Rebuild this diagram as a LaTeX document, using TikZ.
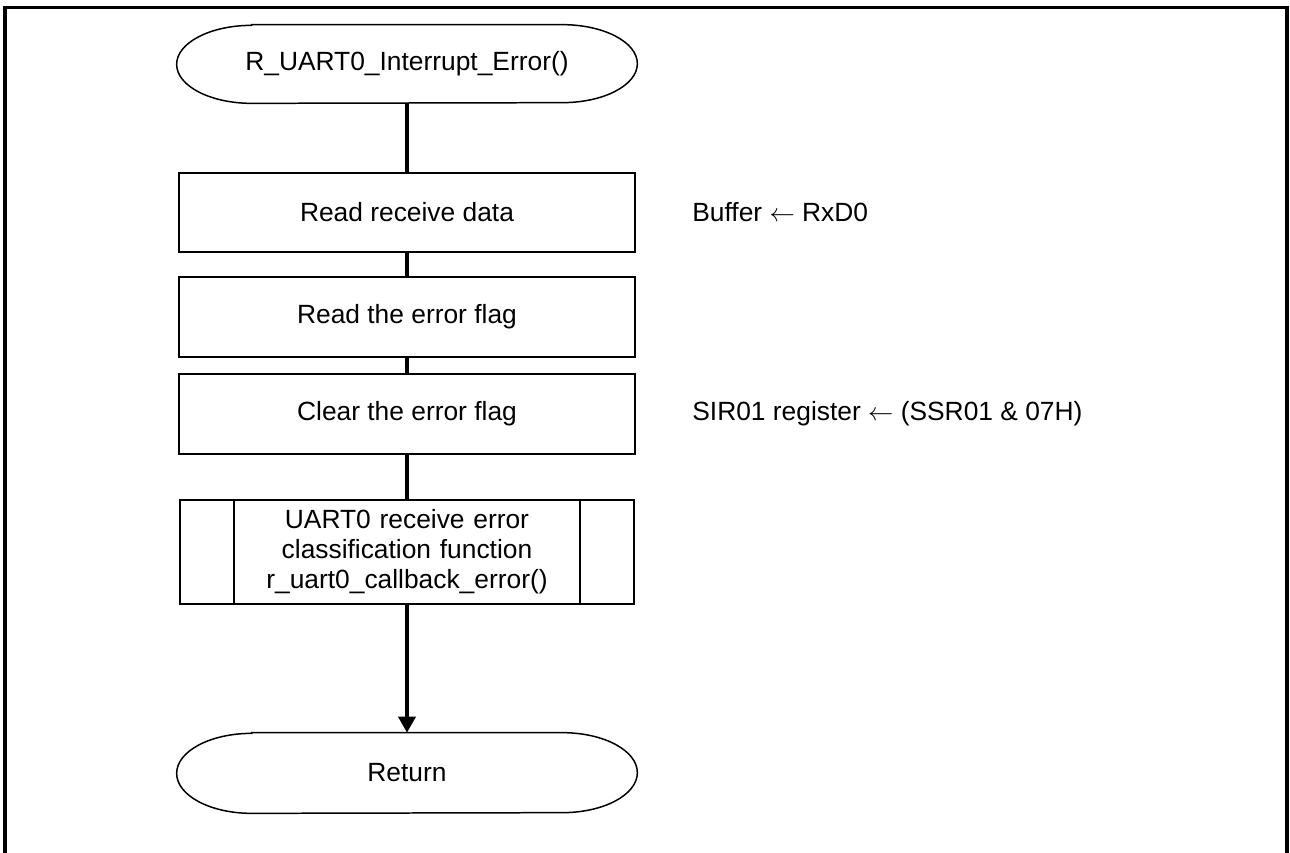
\documentclass[tikz,border=0pt]{standalone}
\usepackage{fontspec}
\setmainfont{Liberation Sans}
\usetikzlibrary{arrows.meta}

\begin{document}
\begin{tikzpicture}[
    font=\fontsize{15}{17}\selectfont,
    box/.style={draw, line width=1.1pt, minimum width=9.12cm, minimum height=1.6cm, align=center},
    term/.style={minimum width=9.2cm, minimum height=1.56cm},
    termline/.style={line width=0.85pt},
    flow/.style={line width=2.1pt},
    note/.style={anchor=west, inner sep=0pt}
]
    \useasboundingbox (0,0) rectangle (25.8,-17.06);

    % Outer frame
    \draw[line width=1.8pt] (0.1,-0.15) rectangle (25.74,-18);

    % Start terminator
    \node[term] (st) at (8.14,-1.28) {R\_UART0\_Interrupt\_Error()};
    \draw[termline] ([xshift=1.5cm]st.north west) -- ([xshift=-1.5cm]st.north east)
        arc[start angle=90, end angle=-90, x radius=1.5cm, y radius=0.78cm]
        -- ([xshift=1.5cm]st.south west)
        arc[start angle=270, end angle=90, x radius=1.5cm, y radius=0.78cm] -- cycle;

    % Process steps
    \node[box, minimum height=1.58cm] (rd) at (8.14,-4.25) {Read receive data};
    \node[box] (rf) at (8.14,-6.34) {Read the error flag};
    \node[box] (cf) at (8.14,-8.28) {Clear the error flag};

    % Predefined process (callback)
    \node[box, minimum width=9.08cm, minimum height=2.08cm, text width=6.6cm] (cb) at (8.14,-11.04)
        {UART0 receive error\\classification function\\r\_uart0\_callback\_error()};
    \draw[line width=1.1pt] ([xshift=1.1cm]cb.north west) -- ([xshift=1.1cm]cb.south west);
    \draw[line width=1.1pt] ([xshift=-1.1cm]cb.north east) -- ([xshift=-1.1cm]cb.south east);

    % End terminator
    \node[term, minimum height=1.6cm] (rt) at (8.14,-15.46) {Return};
    \draw[termline] ([xshift=1.5cm]rt.north west) -- ([xshift=-1.5cm]rt.north east)
        arc[start angle=90, end angle=-90, x radius=1.5cm, y radius=0.8cm]
        -- ([xshift=1.5cm]rt.south west)
        arc[start angle=270, end angle=90, x radius=1.5cm, y radius=0.8cm] -- cycle;

    % Connectors
    \draw[flow] (st.south) -- (rd.north);
    \draw[flow] (rd.south) -- (rf.north);
    \draw[flow] (rf.south) -- (cf.north);
    \draw[flow] (cf.south) -- (cb.north);
    \draw[flow, -{Triangle[width=0.34cm, length=0.32cm]}] (cb.south) -- (rt.north);

    % Notes
    \node[note] (n1) at (13.84,-4.24) {Buffer $\leftarrow$ RxD0};
    \node[note] (n2) at (13.84,-8.28) {SIR01 register $\leftarrow$ (SSR01 \& 07H)};
\end{tikzpicture}
\end{document}
